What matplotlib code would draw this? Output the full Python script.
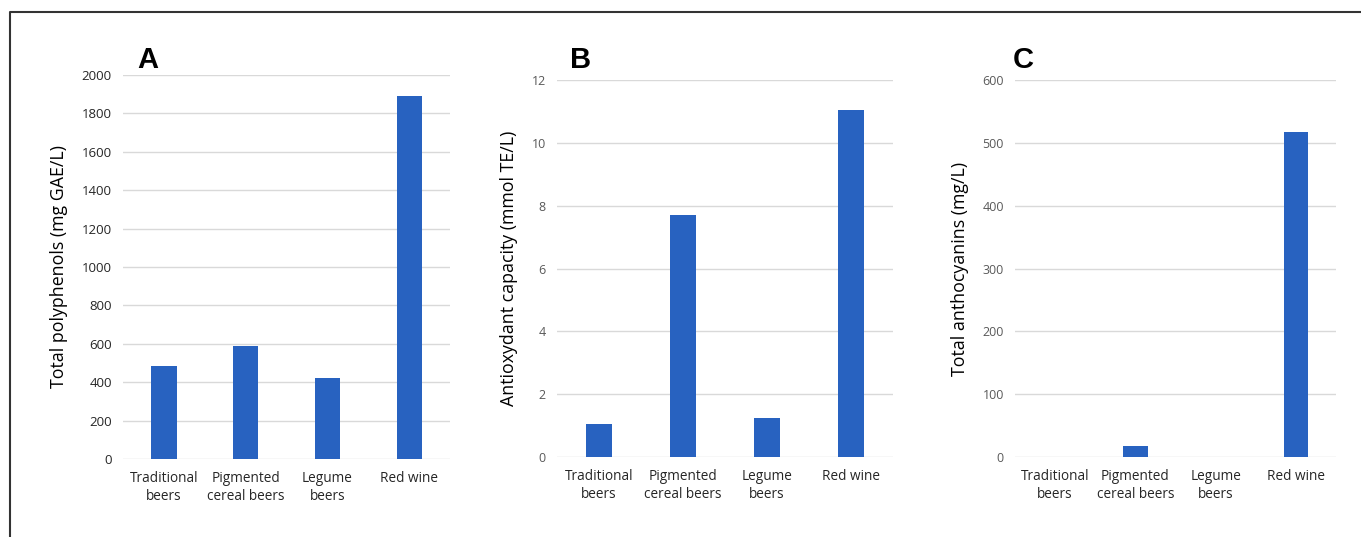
import matplotlib.pyplot as plt
import matplotlib.lines as mlines

plt.rcParams['font.family'] = ['Open Sans', 'DejaVu Sans']

categories = ["Traditional\nbeers", "Pigmented\ncereal beers", "Legume\nbeers", "Red wine"]
polyphenols = [486, 588, 423, 1889]
antioxidant = [1.05, 7.70, 1.24, 11.05]
anthocyanins = [0, 18, 0, 517]

panels = [
    ("A", polyphenols, "Total polyphenols (mg GAE/L)", 2000, 200, [0.0904, 0.1453, 0.2403, 0.715], "#262626", 9.5, 137),
    ("B", antioxidant, "Antioxydant capacity (mmol TE/L)", 12, 2, [0.4093, 0.149, 0.2469, 0.702], "#595959", 9, 570),
    ("C", anthocyanins, "Total anthocyanins (mg/L)", 600, 100, [0.7458, 0.149, 0.2359, 0.702], "#595959", 9, 1013),
]

bar_color = "#2862c0"

fig = plt.figure(figsize=(13.61, 5.37), dpi=100)

for letter, vals, ylabel, ymax, step, rect, tcol, tsize, lx in panels:
    ax = fig.add_axes(rect)
    x = range(len(categories))
    ax.bar(x, vals, width=0.31, color=bar_color, zorder=3)
    ax.set_xlim(-0.5, len(categories) - 0.5)
    ax.set_ylim(0, ymax)
    ax.set_yticks([i * step for i in range(int(round(ymax / step)) + 1)])
    ax.set_xticks(list(x))
    ax.set_xticklabels(categories, fontsize=9.8, color="#262626", linespacing=1.2)
    ax.tick_params(axis="y", labelsize=tsize, colors=tcol, length=0, pad=8)
    ax.tick_params(axis="x", length=0, pad=9)
    ax.grid(axis="y", color="#d9d9d9", linewidth=1, zorder=0)
    for s in ax.spines.values():
        s.set_visible(False)
    ax.set_ylabel(ylabel, fontsize=12.8, color="black", labelpad=10)
    fig.text(lx / 1361, 1 - 68 / 537, letter, fontsize=21,
             fontweight="bold", family=["Liberation Sans", "DejaVu Sans"],
             ha="left", va="baseline")

# outer frame (left and top edges visible)
fig.add_artist(mlines.Line2D([10 / 1361, 10 / 1361, 1.0], [0.0, 1 - 12 / 537, 1 - 12 / 537],
                             transform=fig.transFigure, color="#333333", linewidth=1.5))

fig.savefig("out.png", dpi=100)
